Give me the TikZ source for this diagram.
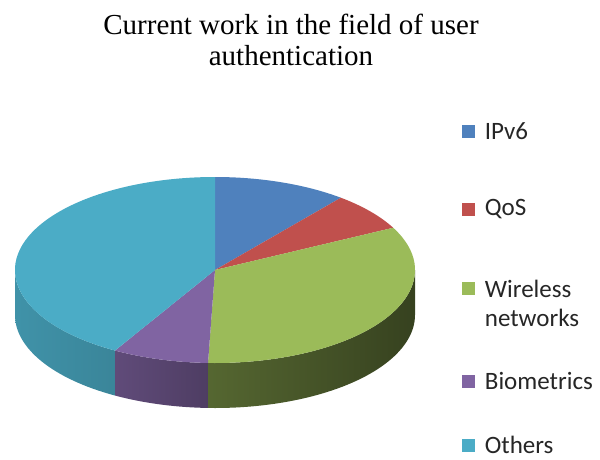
\documentclass[tikz,border=0pt]{standalone}
\usepackage{fontspec}
\setmainfont{Liberation Serif}
\newfontfamily\legendfont{Carlito}
\usetikzlibrary{positioning}

\definecolor{ipvblue}{HTML}{4F81BD}
\definecolor{qosred}{HTML}{C0504D}
\definecolor{wlgreen}{HTML}{9BBB59}
\definecolor{biopurple}{HTML}{8064A2}
\definecolor{othcyan}{HTML}{4BACC6}

\begin{document}
\begin{tikzpicture}[x=1pt, y=1pt,
    topface/.style={line join=round},
    sideface/.style={line join=round},
    key/.style={minimum size=13pt, inner sep=0pt},
    keytext/.style={font=\legendfont\fontsize{25}{29}\selectfont, inner sep=0pt, text=black!85, align=left},
    charttitle/.style={font=\fontsize{29}{31}\selectfont, align=center, inner sep=0pt}
  ]
  \useasboundingbox (0,0) rectangle (600,459);

  \node[charttitle, anchor=north] (title) at (291,445)
    {Current work in the field of user\\authentication};

  \coordinate (pie) at (215,189);

  % side walls (front half only)
  \path[sideface, left color=othcyan!85!black, right color=othcyan!70!black]
    (pie) ++(180:200pt and 93pt) arc[start angle=180, end angle=240, x radius=200pt, y radius=93pt]
    -- ++(0,-45) arc[start angle=240, end angle=180, x radius=200pt, y radius=93pt] -- cycle;
  \path[sideface, left color=biopurple!75!black, right color=biopurple!60!black]
    (pie) ++(240:200pt and 93pt) arc[start angle=240, end angle=268, x radius=200pt, y radius=93pt]
    -- ++(0,-45) arc[start angle=268, end angle=240, x radius=200pt, y radius=93pt] -- cycle;
  \path[sideface, left color=wlgreen!55!black, right color=wlgreen!35!black]
    (pie) ++(268:200pt and 93pt) arc[start angle=268, end angle=360, x radius=200pt, y radius=93pt]
    -- ++(0,-45) arc[start angle=360, end angle=268, x radius=200pt, y radius=93pt] -- cycle;

  % top face
  \fill[topface, ipvblue] (pie) -- +(90:200pt and 93pt)
    arc[start angle=90, end angle=51, x radius=200pt, y radius=93pt] -- cycle;
  \fill[topface, qosred] (pie) -- +(51:200pt and 93pt)
    arc[start angle=51, end angle=27, x radius=200pt, y radius=93pt] -- cycle;
  \fill[topface, wlgreen] (pie) -- +(27:200pt and 93pt)
    arc[start angle=27, end angle=-92, x radius=200pt, y radius=93pt] -- cycle;
  \fill[topface, biopurple] (pie) -- +(-92:200pt and 93pt)
    arc[start angle=-92, end angle=-120, x radius=200pt, y radius=93pt] -- cycle;
  \fill[topface, othcyan] (pie) -- +(-120:200pt and 93pt)
    arc[start angle=-120, end angle=-270, x radius=200pt, y radius=93pt] -- cycle;

  % legend
  \node[key, fill=ipvblue] (keyIPv6) at (468,328) {};
  \node[key, fill=qosred] (keyQoS) at (468,250) {};
  \node[key, fill=wlgreen] (keyWireless) at (468,171) {};
  \node[key, fill=biopurple] (keyBio) at (468,78) {};
  \node[key, fill=othcyan] (keyOthers) at (468,14) {};

  \node[keytext, right=10pt of keyIPv6] (txtIPv6) {IPv6};
  \node[keytext, right=10pt of keyQoS] (txtQoS) {QoS};
  \node[keytext, right=10pt of keyWireless.north east, anchor=north west, yshift=1pt] (txtWireless) {Wireless\\networks};
  \node[keytext, right=10pt of keyBio] (txtBio) {Biometrics};
  \node[keytext, right=10pt of keyOthers] (txtOthers) {Others};
\end{tikzpicture}
\end{document}
